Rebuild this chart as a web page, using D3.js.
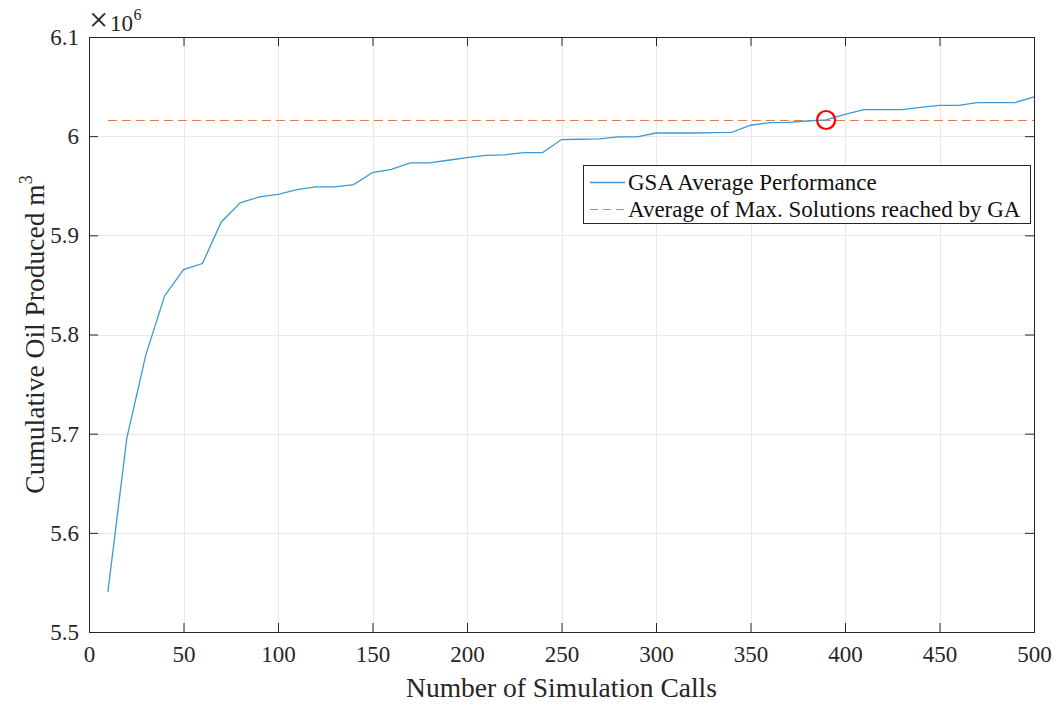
<!DOCTYPE html>
<html>
<head>
<meta charset="utf-8">
<script src="https://cdn.jsdelivr.net/npm/d3@7"></script>
<style>
  html, body { margin: 0; padding: 0; background: #fff; }
  svg { display: block; font-family: "Liberation Serif", "Times New Roman", serif; }
</style>
</head>
<body>
<svg id="chart" width="1064" height="704"></svg>
<script>
// ---- data ----
const simCalls = [10,20,30,40,50,60,70,80,90,100,110,120,130,140,150,160,170,180,190,200,
                  210,220,230,240,250,260,270,280,290,300,310,320,330,340,350,360,370,380,390,400,
                  410,420,430,440,450,460,470,480,490,500];
const gsaAverage = [5.5405,5.6952,5.7790,5.8389,5.8655,5.8716,5.9135,5.9327,5.9387,5.9414,
                    5.9462,5.9488,5.9488,5.9512,5.9633,5.9666,5.9730,5.9730,5.9757,5.9784,
                    5.9807,5.9812,5.9834,5.9834,5.9966,5.9969,5.9972,5.9992,5.9992,6.0032,
                    6.0032,6.0032,6.0035,6.0039,6.0110,6.0137,6.0140,6.0153,6.0165,6.0220,
                    6.0268,6.0268,6.0268,6.0290,6.0310,6.0310,6.0339,6.0339,6.0339,6.0395];
const gaMaxAverage = 6.0168;
const crossingPoint = [390, 6.0163];
const xTicks = [0,50,100,150,200,250,300,350,400,450,500];
const yTicks = [5.5,5.6,5.7,5.8,5.9,6.0,6.1];
const yTickLabels = ["5.5","5.6","5.7","5.8","5.9","6","6.1"];
const seriesNames = ["GSA Average Performance", "Average of Max. Solutions reached by GA"];

// ---- layout ----
const svg = d3.select("#chart");
const L = 89, R = 1034, T = 37, B = 632;
const x = d3.scaleLinear().domain([0, 500]).range([L, R]);
const y = d3.scaleLinear().domain([5.5, 6.1]).range([B, T]);
const axisColor = "#262626";
const gridColor = "#e8e8e8";
const blue = "#3f97d6";
const orange = "#ea7a45";

// grid
svg.append("g").selectAll("line").data(xTicks.slice(1, -1)).join("line")
  .attr("x1", d => Math.round(x(d)) + 0.5).attr("x2", d => Math.round(x(d)) + 0.5).attr("y1", T).attr("y2", B)
  .attr("stroke", gridColor).attr("stroke-width", 1);
svg.append("g").selectAll("line").data(yTicks.slice(1, -1)).join("line")
  .attr("y1", d => Math.round(y(d)) + 0.5).attr("y2", d => Math.round(y(d)) + 0.5).attr("x1", L).attr("x2", R)
  .attr("stroke", gridColor).attr("stroke-width", 1);

// axes
const fs = 23;
const xAxis = d3.axisBottom(x).tickValues(xTicks).tickSize(-9).tickPadding(14).tickFormat(d3.format("d"));
const gx = svg.append("g").attr("transform", `translate(0,${B})`).call(xAxis);
const xAxisTop = d3.axisTop(x).tickValues(xTicks).tickSize(-9).tickFormat("");
const gxt = svg.append("g").attr("transform", `translate(0,${T})`).call(xAxisTop);
const yAxis = d3.axisLeft(y).tickValues(yTicks).tickSize(-9).tickPadding(10)
  .tickFormat((d, i) => yTickLabels[i]);
const gy = svg.append("g").attr("transform", `translate(${L},0)`).call(yAxis);
const yAxisR = d3.axisRight(y).tickValues(yTicks).tickSize(-9).tickFormat("");
const gyr = svg.append("g").attr("transform", `translate(${R},0)`).call(yAxisR);
[gx, gxt, gy, gyr].forEach(g => {
  g.select(".domain").attr("stroke", axisColor).attr("stroke-width", 1);
  g.selectAll(".tick line").attr("stroke", axisColor).attr("stroke-width", 1);
  g.selectAll(".tick text").attr("fill", axisColor).style("font-size", fs + "px")
    .style("font-family", "Liberation Serif, Times New Roman, serif");
});
gx.selectAll(".tick text").attr("dy", "0.71em");

// exponent
svg.append("text").attr("x", 89).attr("y", 31).attr("fill", axisColor)
  .style("font-size", "34px").style("font-weight", "300").text("×");
svg.append("text").attr("x", 110).attr("y", 31).attr("fill", axisColor)
  .style("font-size", "23px").text("10");
svg.append("text").attr("x", 133.5).attr("y", 20).attr("fill", axisColor)
  .style("font-size", "16px").text("6");

// axis labels
svg.append("text").attr("x", (L + R) / 2).attr("y", 697).attr("text-anchor", "middle")
  .attr("fill", axisColor).style("font-size", "27.5px").text("Number of Simulation Calls");
const yl = svg.append("text").attr("transform", `translate(44,${(T + B) / 2}) rotate(-90)`)
  .attr("text-anchor", "middle").attr("fill", axisColor).style("font-size", "27.5px");
yl.append("tspan").text("Cumulative Oil Produced m");
yl.append("tspan").attr("dy", -12).style("font-size", "18px").text("3");

// dashed reference line
const yRef = Math.round(y(gaMaxAverage)) + 0.5;
svg.append("line").attr("x1", x(10)).attr("x2", x(500))
  .attr("y1", yRef).attr("y2", yRef)
  .attr("stroke", orange).attr("stroke-width", 1.2).attr("stroke-dasharray", "9,5");

// GSA line
const line = d3.line().x((d, i) => x(simCalls[i])).y(d => y(d));
svg.append("path").datum(gsaAverage).attr("d", line)
  .attr("fill", "none").attr("stroke", blue).attr("stroke-width", 1.3);

// red circle marker
svg.append("circle").attr("cx", x(crossingPoint[0])).attr("cy", y(crossingPoint[1]))
  .attr("r", 9).attr("fill", "none").attr("stroke", "#ff0000").attr("stroke-width", 2.2);

// legend
const lg = svg.append("g");
lg.append("rect").attr("x", 583.5).attr("y", 165.5).attr("width", 447).attr("height", 58)
  .attr("fill", "#fff").attr("stroke", axisColor).attr("stroke-width", 1);
const rows = [{ c: blue, dash: null, ty: 182 }, { c: orange, dash: "8,5", ty: 209 }];
rows.forEach((r, i) => {
  lg.append("line").attr("x1", 590).attr("x2", 625).attr("y1", r.ty + 0.5).attr("y2", r.ty + 0.5)
    .attr("stroke", r.c).attr("stroke-width", r.dash ? 1.2 : 1.3)
    .attr("stroke-dasharray", r.dash);
  lg.append("text").attr("x", 628).attr("y", r.ty).attr("dy", "0.35em")
    .attr("fill", "#111").style("font-size", "23px").text(seriesNames[i]);
});
</script>
</body>
</html>
